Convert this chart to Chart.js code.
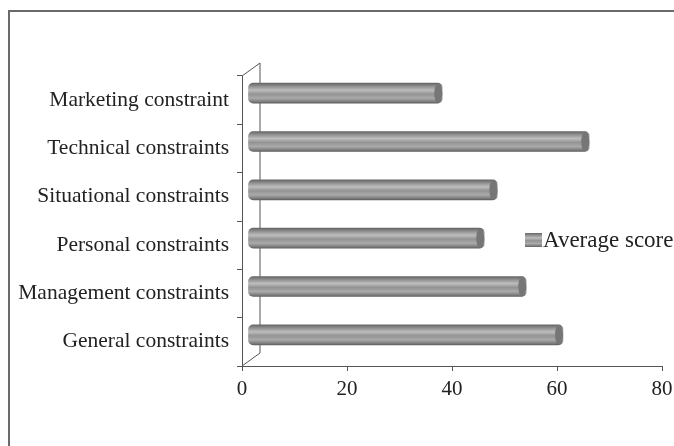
<!DOCTYPE html>
<html>
<head>
<meta charset="utf-8">
<script src="https://cdn.jsdelivr.net/npm/chart.js@4.4.1/dist/chart.umd.min.js"></script>
<style>
    html, body { margin: 0; padding: 0; background: #ffffff; overflow: hidden; }
    canvas { display: block; }
</style>
</head>
<body>
<canvas id="chart" width="674" height="446"></canvas>
<script>
const categories = [
    "Marketing constraint",
    "Technical constraints",
    "Situational constraints",
    "Personal constraints",
    "Management constraints",
    "General constraints"
];
const averageScore = [37, 65, 47.5, 45, 53, 60];
const xTicks = [0, 20, 40, 60, 80];
const seriesLabel = "Average score";

const FONT = "'Liberation Serif', 'Times New Roman', serif";
const DEPTH_X = 18;
const DEPTH_Y = 13;
const BAR_SHIFT_X = 6;
const BAR_SHIFT_Y = -7;

function cylinderGradient(ctx, top, bottom) {
    const g = ctx.createLinearGradient(0, top, 0, bottom);
    g.addColorStop(0, "#666666");
    g.addColorStop(0.15, "#8e8e8e");
    g.addColorStop(0.35, "#bdbdbd");
    g.addColorStop(0.55, "#939393");
    g.addColorStop(0.75, "#aaaaaa");
    g.addColorStop(0.92, "#7e7e7e");
    g.addColorStop(1, "#606060");
    return g;
}

// frame, back wall and bar shift
const decorPlugin = {
    id: "decor",
    beforeDraw(chart) {
        const ctx = chart.ctx;
        ctx.save();
        ctx.strokeStyle = "#6a6a6a";
        ctx.lineWidth = 2;
        ctx.beginPath();
        ctx.moveTo(9, chart.height);
        ctx.lineTo(9, 11);
        ctx.lineTo(chart.width, 11);
        ctx.stroke();
        ctx.restore();
    },
    beforeDatasetsDraw(chart) {
        const { ctx, chartArea } = chart;
        ctx.save();
        ctx.strokeStyle = "#555555";
        ctx.lineWidth = 1;
        ctx.beginPath();
        ctx.moveTo(chartArea.left, chartArea.top);
        ctx.lineTo(chartArea.left + DEPTH_X, chartArea.top - DEPTH_Y);
        ctx.lineTo(chartArea.left + DEPTH_X, chartArea.bottom - DEPTH_Y);
        ctx.lineTo(chartArea.left, chartArea.bottom);
        ctx.stroke();
        ctx.restore();
        ctx.save();
        ctx.translate(BAR_SHIFT_X, BAR_SHIFT_Y);
    },
    afterDatasetsDraw(chart) {
        const ctx = chart.ctx;
        const meta = chart.getDatasetMeta(0);
        meta.data.forEach(bar => {
            const h = bar.height;
            ctx.beginPath();
            ctx.ellipse(bar.x - 4, bar.y, 4, h / 2, 0, 0, Math.PI * 2);
            ctx.fillStyle = "#767676";
            ctx.fill();
        });
        ctx.restore();

        // legend
        const lx = 525, ly = 240;
        ctx.save();
        ctx.fillStyle = cylinderGradient(ctx, ly - 7, ly + 7);
        ctx.fillRect(lx, ly - 7, 17, 14);
        ctx.fillStyle = "#222222";
        ctx.font = "23px " + FONT;
        ctx.textBaseline = "middle";
        ctx.fillText(chart.data.datasets[0].label, lx + 18, ly + 1);
        ctx.restore();
    }
};

new Chart(document.getElementById("chart"), {
    type: "bar",
    data: {
        labels: categories,
        datasets: [{
            label: seriesLabel,
            data: averageScore,
            backgroundColor: (c) => {
                const chart = c.chart;
                if (!chart.chartArea || c.type !== "data") return "#999999";
                const y = chart.scales.y.getPixelForValue(c.dataIndex);
                return cylinderGradient(chart.ctx, y - 10, y + 10);
            },
            borderWidth: 0,
            borderRadius: 5,
            borderSkipped: false,
            barThickness: 20
        }]
    },
    options: {
        indexAxis: "y",
        responsive: false,
        animation: false,
        devicePixelRatio: 1,
        layout: { padding: { top: 76, right: 12, left: 0, bottom: 0 } },
        plugins: {
            legend: { display: false },
            tooltip: { enabled: false }
        },
        scales: {
            x: {
                min: 0,
                max: 80,
                afterBuildTicks: (scale) => { scale.ticks = xTicks.map(v => ({ value: v })); },
                afterFit: (scale) => {
                    scale.height = 80;
                    scale.paddingLeft = 0;
                    scale.paddingRight = 0;
                },
                border: { color: "#555555", width: 1 },
                grid: { drawOnChartArea: false, drawTicks: true, tickLength: 5, color: "#555555" },
                ticks: { color: "#222222", padding: 6, maxRotation: 0, font: { family: FONT, size: 21 } }
            },
            y: {
                afterFit: (scale) => { scale.width = 242; },
                border: { color: "#555555", width: 1 },
                grid: { offset: true, drawOnChartArea: false, drawTicks: true, tickLength: 5, color: "#555555" },
                ticks: { color: "#222222", padding: 8, font: { family: FONT, size: 21.5 } }
            }
        }
    },
    plugins: [decorPlugin]
});
</script>
</body>
</html>
